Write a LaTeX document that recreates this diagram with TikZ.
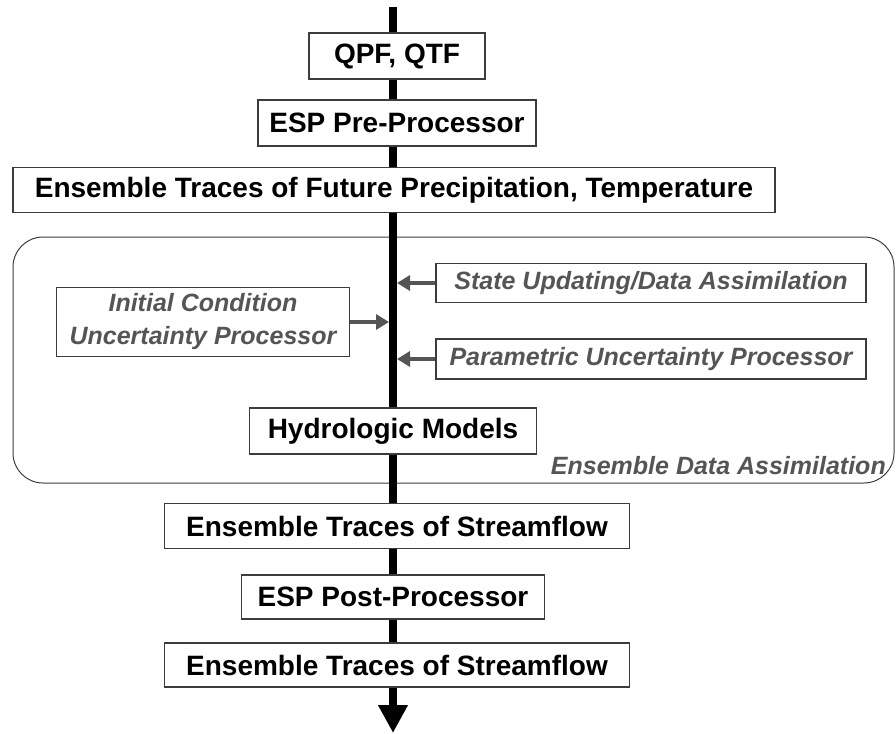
\documentclass[tikz,border=0pt]{standalone}
\usepackage{fontspec}
\setmainfont{Liberation Sans}
\usetikzlibrary{arrows.meta}
\definecolor{boxgray}{RGB}{60,60,60}
\definecolor{textgray}{RGB}{85,85,85}
\tikzset{
  box/.style={draw=boxgray,line width=1.2pt,fill=white,inner sep=0pt,font=\fontsize{28}{32}\selectfont\bfseries},
  gbox/.style={draw=boxgray,line width=1.2pt,fill=white,inner sep=0pt,text=textgray,font=\fontsize{25}{33}\selectfont\bfseries\itshape},
  feed/.style={draw=textgray,line width=3.5pt,shorten >=4pt,-{Triangle[width=15pt,length=13pt]}}
}
\begin{document}
\begin{tikzpicture}[x=1pt,y=-1pt]

\useasboundingbox (0,0) rectangle (896,733);
\draw[boxgray,line width=1pt,rounded corners=30pt] (13,237) rectangle (894,483);
\coordinate (v0) at (393,7);
\coordinate (v12) at (393,733);
\draw[line width=8pt,-{Triangle[width=28pt,length=28pt]}] (v0) -- (v12);
\node[box,minimum width=176pt,minimum height=46pt] (v1) at (397,56) {QPF, QTF};
\node[box,minimum width=278pt,minimum height=46pt] (v2) at (397,123) {ESP Pre-Processor};
\node[box,minimum width=762pt,minimum height=45pt] (v3) at (394,190) {Ensemble Traces of Future Precipitation, Temperature};
\node[gbox,minimum width=430pt,minimum height=39pt] (v4) at (651,283) {State Updating/Data Assimilation};
\node[gbox,minimum width=293pt,minimum height=69pt,align=center] (v5) at (203,322) {Initial Condition\\Uncertainty Processor};
\node[gbox,minimum width=430pt,minimum height=40pt] (v6) at (651,359) {Parametric Uncertainty Processor};
\node[box,minimum width=287pt,minimum height=46pt] (v7) at (393,431) {Hydrologic Models};
\node[text=textgray,font=\fontsize{25}{30}\selectfont\bfseries\itshape,inner sep=0pt,anchor=base east] (v8) at (886,474) {Ensemble Data Assimilation};
\node[box,minimum width=465pt,minimum height=45pt] (v9) at (397,526) {Ensemble Traces of Streamflow};
\node[box,minimum width=303pt,minimum height=44pt] (v10) at (393,597) {ESP Post-Processor};
\node[box,minimum width=465pt,minimum height=44pt] (v11) at (397,665) {Ensemble Traces of Streamflow};
\draw[feed] (v4) -- (v4 -| v0);
\draw[feed] (v5) -- (v5 -| v0);
\draw[feed] (v6) -- (v6 -| v0);
\end{tikzpicture}
\end{document}
